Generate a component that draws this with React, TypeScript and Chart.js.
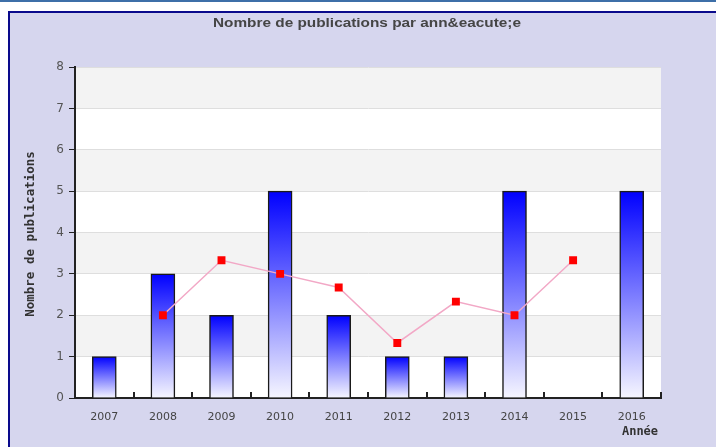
import React, { useEffect, useRef } from "react";
import { Chart, registerables } from "chart.js";

Chart.register(...registerables);

const years = ["2007", "2008", "2009", "2010", "2011", "2012", "2013", "2014", "2015", "2016"];
const publications = [1, 3, 2, 5, 2, 1, 1, 5, 0, 5];
const movingAverage = [null, 2, 3.33, 3, 2.67, 1.33, 2.33, 2, 3.33, null];
const yTicks = [0, 1, 2, 3, 4, 5, 6, 7, 8];
const chartTitle = "Nombre de publications par ann&eacute;e";
const yTitle = "Nombre de publications";
const xTitle = "Année";

const decorPlugin = {
  id: "decor",
  beforeDraw(chart: any) {
    const { ctx, width, height, chartArea, scales } = chart;
    ctx.save();
    ctx.fillStyle = "#ffffff";
    ctx.fillRect(0, 0, width, height);
    ctx.fillStyle = "#3d6fa8";
    ctx.fillRect(0, 0, width, 2);
    ctx.fillStyle = "#d6d6ee";
    ctx.fillRect(8, 11, width - 8, height - 11);
    ctx.fillStyle = "#0a0a8c";
    ctx.fillRect(8, 11, 2, height - 11);
    ctx.fillRect(8, 11, width - 8, 2);
    const y = scales.y;
    ctx.fillStyle = "#ffffff";
    ctx.fillRect(chartArea.left, chartArea.top, chartArea.right - chartArea.left, chartArea.bottom - chartArea.top);
    ctx.fillStyle = "#f3f3f3";
    for (let v = 8; v > 0; v -= 2) {
      const t = y.getPixelForValue(v);
      const b = y.getPixelForValue(v - 1);
      ctx.fillRect(chartArea.left, t, chartArea.right - chartArea.left, b - t);
    }
    // title, horizontally stretched to the reference's width
    ctx.save();
    ctx.fillStyle = "#454545";
    ctx.font = "bold 12px 'Liberation Sans', Arial, sans-serif";
    ctx.textAlign = "center";
    ctx.textBaseline = "middle";
    const tw = ctx.measureText(chartTitle).width;
    const sx = 308 / tw;
    ctx.translate(367, 23.5);
    ctx.scale(sx, 1);
    ctx.fillText(chartTitle, 0, 0);
    ctx.restore();
    // y title
    ctx.save();
    ctx.translate(31, 234);
    ctx.rotate(-Math.PI / 2);
    ctx.textAlign = "center";
    ctx.textBaseline = "middle";
    ctx.font = "bold 12.5px 'DejaVu Sans Mono', monospace";
    ctx.fillStyle = "#333333";
    ctx.fillText(yTitle, 0, 0);
    ctx.restore();
    // x title
    ctx.font = "bold 12px 'DejaVu Sans Mono', monospace";
    ctx.fillStyle = "#333333";
    ctx.textAlign = "center";
    ctx.textBaseline = "middle";
    ctx.fillText(xTitle, 640, 432);
    ctx.restore();
  },
  afterDraw(chart: any) {
    const { ctx, chartArea } = chart;
    ctx.save();
    ctx.strokeStyle = "#222222";
    ctx.lineWidth = 2;
    const n = years.length;
    const w = (chartArea.right - chartArea.left) / n;
    for (let i = 1; i <= n; i++) {
      const x = Math.round(chartArea.left + i * w);
      ctx.beginPath();
      ctx.moveTo(x, chartArea.bottom);
      ctx.lineTo(x, chartArea.bottom - 6);
      ctx.stroke();
    }
    ctx.restore();
  },
};

function barGradient(c: any) {
  const chart = c.chart;
  const y = chart.scales && chart.scales.y;
  if (!y || c.type !== "data") return "#0000ff";
  const top = y.getPixelForValue(c.raw);
  const base = y.getPixelForValue(0);
  if (!isFinite(top) || !isFinite(base) || Math.abs(base - top) < 1) return "#0000ff";
  const g = chart.ctx.createLinearGradient(0, top, 0, base);
  g.addColorStop(0, "#0000ff");
  g.addColorStop(1, "#f6f6ff");
  return g;
}

export default function App() {
  const ref = useRef<HTMLCanvasElement>(null);
  useEffect(() => {
    if (!ref.current) return;
    const chart = new Chart(ref.current, {
      type: "bar",
      data: {
        labels: years,
        datasets: [
          {
            type: "line",
            data: movingAverage as any,
            borderColor: "#f2a8c6",
            borderWidth: 1.5,
            pointStyle: "rect",
            pointRadius: 5.6,
            pointBackgroundColor: "#ff0000",
            pointBorderColor: "#ff0000",
            pointBorderWidth: 0,
            spanGaps: false,
            order: 0,
          } as any,
          {
            type: "bar",
            data: publications,
            backgroundColor: barGradient as any,
            borderColor: "#1a1a1a",
            borderWidth: 1.5,
            barThickness: 24,
            order: 1,
          } as any,
        ],
      },
      options: {
        animation: false,
        responsive: false,
        layout: { padding: { left: 0, top: 67, right: 55, bottom: 0 } },
        plugins: { legend: { display: false }, tooltip: { enabled: false } },
        scales: {
          x: {
            offset: true,
            grid: { display: false },
            border: { color: "#222222", width: 2 },
            ticks: { color: "#444444", font: { family: "'DejaVu Sans', Verdana, sans-serif", size: 11 }, padding: 5 },
            afterFit: (s: any) => { s.height = 49; },
          },
          y: {
            min: 0,
            max: 8,
            afterBuildTicks: (s: any) => { s.ticks = yTicks.map((v) => ({ value: v })); },
            grid: { color: "#dedede", tickColor: "#222222", tickLength: 6, lineWidth: 1 },
            border: { color: "#222222", width: 2 },
            ticks: { color: "#555555", font: { family: "'DejaVu Sans', Verdana, sans-serif", size: 12 }, padding: 5 },
            afterFit: (s: any) => { s.width = 75; },
          },
        },
      },
      plugins: [decorPlugin],
    });
    return () => chart.destroy();
  }, []);
  return (
    <div style={{ position: "fixed", left: 0, top: 0, width: 716, height: 447 }}>
      <canvas ref={ref} width={716} height={447} style={{ width: 716, height: 447, display: "block" }} />
    </div>
  );
}
